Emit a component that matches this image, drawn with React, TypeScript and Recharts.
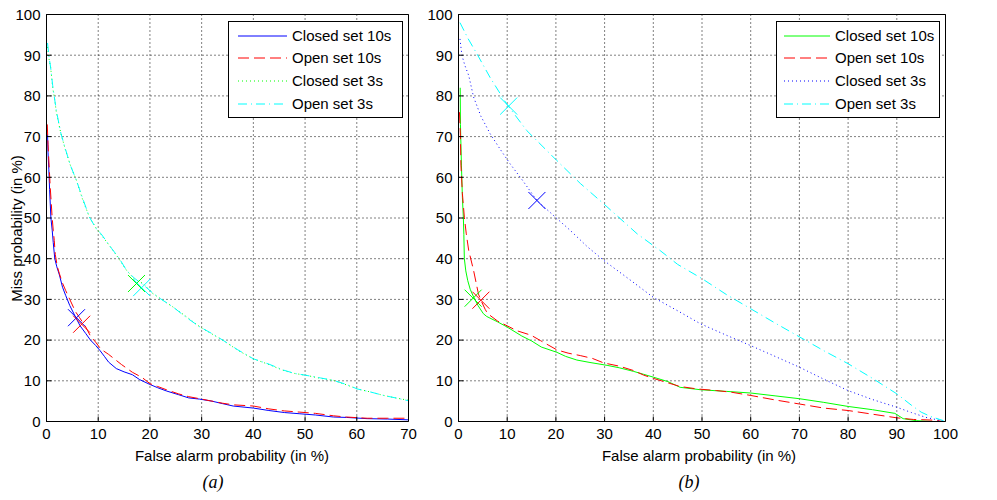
import React from "react";
import {
  LineChart,
  Line,
  XAxis,
  YAxis,
  CartesianGrid,
  ReferenceDot,
  Legend,
} from "recharts";

// ---------------------------------------------------------------------------
// Data: DET curves, [false alarm %, miss %]
// ---------------------------------------------------------------------------

type Pt = [number, number];

// Panel (a)
const closed10A: Pt[] = [
  [0.2, 70.5], [0.3, 66], [0.45, 62], [0.6, 57], [0.85, 50], [1.1, 47], [1.3, 44],
  [1.6, 40], [2.0, 38], [2.5, 36], [3.1, 33], [3.7, 31], [4.5, 28.5], [5.6, 25.7],
  [6.5, 23.5], [7.6, 21.6], [8.5, 20], [9.5, 18.7], [10.3, 17.5], [11.2, 16],
  [12, 14.6], [13.5, 13], [15, 12.2], [16.6, 11.5], [18, 10.3], [20, 9.1],
  [21.5, 8.3], [23.2, 7.5], [25.5, 6.6], [27.5, 5.8], [29.6, 5.5], [32, 5],
  [34, 4.4], [36.1, 3.8], [40, 3.3], [43, 2.7], [46, 2.2], [49, 1.9], [52, 1.6],
  [55.5, 1.1], [58, 1.0], [62, 0.7], [66, 0.6], [70, 0.4],
];
const open10A: Pt[] = [
  [0.15, 73], [0.3, 68], [0.5, 63], [0.7, 58], [1.1, 50], [1.3, 47], [1.5, 44.5],
  [1.7, 41], [2.1, 38], [2.5, 36.3], [3.1, 34], [3.7, 32.2], [4.5, 30], [5.6, 27],
  [6.4, 25.5], [7.6, 23.2], [8.5, 21], [9.5, 19.5], [10.5, 17.8], [12, 16.5],
  [13, 15.5], [14.5, 14], [16.6, 12.1], [18.5, 10.8], [20, 9.3], [21.5, 8.6],
  [23.2, 7.8], [25.5, 6.8], [27.5, 6.1], [29.6, 5.6], [32, 5.0], [34, 4.5],
  [36.1, 4.1], [40, 3.8], [43, 3.1], [46, 2.6], [49, 2.3], [52, 2.0], [55.5, 1.4],
  [58, 1.1], [62, 0.8], [66, 0.8], [70, 0.8],
];
const closed3A: Pt[] = [
  [0.2, 92], [0.5, 89], [0.8, 87], [1.2, 82], [1.6, 79], [1.9, 76], [2.4, 73],
  [2.8, 70.7], [3.6, 67], [4.6, 63], [5.8, 59.2], [7, 54.5], [8.3, 50.2],
  [9.6, 47.5], [10.5, 46], [12.6, 42.5], [14, 40], [15.5, 37.1], [17, 35],
  [18.7, 33.9], [20.5, 31.5], [22, 30.2], [24.5, 28.1], [27, 25.8], [29.7, 23.2],
  [32, 21.5], [34.2, 19.9], [37, 17.5], [40, 15.4], [43, 14], [45.9, 12.5],
  [48, 11.8], [50.4, 11.3], [53, 10.6], [55.5, 10.1], [58, 9], [60.1, 8],
  [62.5, 7.3], [65.2, 6.4], [67.5, 5.8], [70, 5.2],
];
const open3A: Pt[] = [
  [0.2, 93], [0.5, 89.5], [0.8, 87], [1.2, 82.5], [1.6, 79], [1.9, 76.4], [2.4, 73.2],
  [2.8, 70.7], [3.6, 67.2], [4.6, 63], [5.8, 59.2], [7, 54.8], [8.3, 50.2],
  [9.7, 47.2], [10.5, 46.2], [12.6, 42.5], [14, 40.2], [15.5, 37.1], [17, 35.2],
  [18.7, 33.6], [20.5, 31.6], [22, 30.2], [24.5, 28.1], [27, 25.6], [29.7, 23.2],
  [32, 21.6], [34.2, 19.9], [37, 17.6], [40, 15.4], [43, 14.1], [45.9, 12.6],
  [48, 11.8], [50.4, 11.3], [53, 10.7], [55.5, 10.1], [58, 9.1], [60.1, 8],
  [62.5, 7.3], [65.2, 6.4], [67.5, 5.8], [70, 5.1],
];

// Panel (b)
const closed10B: Pt[] = [
  [0.35, 82], [0.4, 73], [0.6, 63], [0.8, 55], [1.0, 50], [1.1, 46], [1.2, 40],
  [1.5, 37], [1.9, 34.6], [2.4, 32.5], [3.1, 30.6], [4, 28.5], [5.1, 26.5],
  [5.8, 25.8], [8, 24.5], [10, 23.2], [13, 21], [15, 19.8], [17, 18.3], [20.2, 17],
  [22, 16], [24.3, 15.1], [27, 14.5], [30.5, 13.8], [33, 13.2], [36, 12.3],
  [38, 11.6], [40, 10.9], [43, 9.8], [45.5, 8.4], [49.7, 7.8], [55, 7.4], [60, 7.0],
  [65, 6.3], [70, 5.6], [75, 4.7], [80, 3.7], [85, 2.9], [89.6, 2.0], [91.3, 0.7],
  [94, 0.2], [97.5, 0],
];
const open10B: Pt[] = [
  [0.2, 76], [0.4, 70], [0.5, 63], [0.8, 56], [1.2, 50.2], [1.6, 46.1], [2.1, 42],
  [3.1, 37.1], [4.1, 31.3], [4.6, 29.8], [5.5, 27.5], [6, 26.5], [8, 24.7],
  [10, 23.5], [12, 22.3], [14.9, 21.2], [16.8, 19.9], [20.2, 17.6], [22.5, 16.8],
  [25, 16.2], [27.5, 15.5], [29.8, 14.4], [33, 13.6], [36, 12.5], [38, 11.4],
  [40, 10.6], [43, 9.5], [45.5, 8.6], [49, 8.0], [53, 7.6], [56, 7.2], [60, 6.4],
  [65, 5.3], [70, 4.3], [75, 3.3], [80, 2.7], [85, 1.8], [90, 0.9], [93.4, 0.5],
  [96, 0.4], [98, 0.3], [99.5, 0],
];
const closed3B: Pt[] = [
  [0.3, 94], [0.7, 90], [1.3, 87.5], [2.1, 85], [3.1, 79.7], [4.6, 75], [6.5, 70.7],
  [8.5, 67], [10.6, 63.3], [13, 59.5], [16.1, 54.3], [19.9, 50.2], [23, 46.9],
  [26.4, 43], [29.8, 39.6], [35, 35], [40, 30.5], [45, 27.2], [49.7, 24], [55, 21.2],
  [59.9, 18.7], [65, 16], [69.9, 13.4], [75, 10.4], [80, 7.6], [85, 5.4], [90, 3.5],
  [93, 2.2], [96, 1.0], [100, 0],
];
const open3B: Pt[] = [
  [0.3, 98], [2, 94], [3.8, 90.3], [6.5, 84.5], [9.9, 78], [14, 71.5], [20.2, 64.1],
  [25, 58.5], [29.8, 53.5], [36.7, 46.1], [41.4, 42], [45, 38.6], [50, 35.1],
  [55, 31.2], [60, 27.7], [65, 24.2], [70, 20.8], [75, 17.4], [80, 14.2], [85, 10.6],
  [90, 6.8], [93, 4.0], [95, 2.3], [97, 1.2], [99.6, 0.2],
];

// Operating points (x markers), one per series
const markersA: Pt[] = [[5.8, 25.5], [6.8, 23.9], [17.4, 33.9], [18.4, 32.9]];
const markersB: Pt[] = [[3.0, 30.3], [4.6, 29.8], [16.1, 54.3], [10.3, 77.5]];

const seriesNames = ["Closed set 10s", "Open set 10s", "Closed set 3s", "Open set 3s"];
const colorsA = ["#0000ff", "#ff0000", "#00ff00", "#00ffff"];
const colorsB = ["#00ff00", "#ff0000", "#0000ff", "#00ffff"];
const dashes = ["", "11 5", "1 3", "9 4 1 4"];

const ticksA = [0, 10, 20, 30, 40, 50, 60, 70];
const ticksB = [0, 10, 20, 30, 40, 50, 60, 70, 80, 90, 100];
const ticksY = [0, 10, 20, 30, 40, 50, 60, 70, 80, 90, 100];

// ---------------------------------------------------------------------------
// Helpers
// ---------------------------------------------------------------------------

const FONT = '"Liberation Sans", Arial, sans-serif';
const toRows = (pts: Pt[]) => pts.map(([x, y]) => ({ x, y }));

function XMark(props: any) {
  const { cx, cy, stroke } = props;
  const r = 8.5;
  return (
    <g stroke={stroke} strokeWidth={1}>
      <line x1={cx - r} y1={cy - r} x2={cx + r} y2={cy + r} />
      <line x1={cx - r} y1={cy + r} x2={cx + r} y2={cy - r} />
    </g>
  );
}

function LegendBox({
  colors,
  width,
  lineX,
  lineW,
  textX,
}: {
  colors: string[];
  width: number;
  lineX: number;
  lineW: number;
  textX: number;
}) {
  return (
    <div
      style={{
        boxSizing: "border-box",
        width,
        height: 97,
        border: "1px solid #000",
        background: "#fff",
        position: "relative",
        fontFamily: FONT,
        fontSize: 15,
        color: "#000",
      }}
    >
      {seriesNames.map((name, i) => {
        const cy = 14.5 + i * 22.67;
        return (
          <React.Fragment key={name}>
            <svg
              width={lineW}
              height={4}
              style={{ position: "absolute", left: lineX - 1, top: cy - 2 - 1 }}
            >
              <line
                x1={0}
                x2={lineW}
                y1={2}
                y2={2}
                stroke={colors[i]}
                strokeWidth={1}
                strokeDasharray={dashes[i] || undefined}
              />
            </svg>
            <span
              style={{
                position: "absolute",
                left: textX - 1,
                top: cy - 10 - 1,
                lineHeight: "20px",
                whiteSpace: "nowrap",
              }}
            >
              {name}
            </span>
          </React.Fragment>
        );
      })}
    </div>
  );
}

interface PanelProps {
  series: Pt[][];
  markers: Pt[];
  colors: string[];
  xMax: number;
  xTicks: number[];
  width: number;
  yAxisWidth: number;
  marginRight: number;
  legend: { left: number; width: number; lineX: number; lineW: number; textX: number };
  xLabelX: number;
  tagX: number;
  tag: string;
  yLabel?: boolean;
}

function Panel(p: PanelProps) {
  const tickStyle = { fill: "#000", fontSize: 15, fontFamily: FONT };
  return (
    <LineChart
      width={p.width}
      height={500}
      margin={{ top: 13.5, right: p.marginRight, bottom: 0, left: 0 }}
    >
      <CartesianGrid stroke="#000" strokeDasharray="1 3" />
      <XAxis
        type="number"
        dataKey="x"
        domain={[0, p.xMax]}
        ticks={p.xTicks}
        interval={0}
        allowDataOverflow
        height={78.5}
        tickSize={-5}
        tickMargin={11.5}
        stroke="#000"
        tick={tickStyle}
        label={() => (
          <g fontFamily={FONT} fill="#000">
            <text x={p.xLabelX} y={455} fontSize={15} textAnchor="middle" dominantBaseline="central">
              False alarm probability (in %)
            </text>
            <text
              x={p.tagX}
              y={482}
              fontSize={18}
              fontStyle="italic"
              fontFamily='"Liberation Serif", "Times New Roman", serif'
              textAnchor="middle"
              dominantBaseline="central"
            >
              {p.tag}
            </text>
          </g>
        )}
      />
      <XAxis
        xAxisId="top"
        orientation="top"
        type="number"
        domain={[0, p.xMax]}
        ticks={p.xTicks}
        interval={0}
        allowDataOverflow
        height={1}
        tickSize={-5}
        tick={false}
        stroke="#000"
      />
      <YAxis
        type="number"
        dataKey="y"
        domain={[0, 100]}
        ticks={ticksY}
        interval={0}
        allowDataOverflow
        width={p.yAxisWidth}
        tickSize={-5}
        tickMargin={11}
        stroke="#000"
        tick={tickStyle}
        label={
          p.yLabel
            ? () => (
                <text
                  x={16.5}
                  y={228.5}
                  transform="rotate(-90 16.5 228.5)"
                  fontFamily={FONT}
                  fontSize={15}
                  fill="#000"
                  textAnchor="middle"
                  dominantBaseline="central"
                >
                  Miss probability (in %)
                </text>
              )
            : undefined
        }
      />
      <YAxis
        yAxisId="right"
        orientation="right"
        type="number"
        domain={[0, 100]}
        ticks={ticksY}
        interval={0}
        allowDataOverflow
        width={1}
        tickSize={-5}
        tick={false}
        stroke="#000"
      />
      {p.series.map((pts, i) => (
        <Line
          key={seriesNames[i]}
          name={seriesNames[i]}
          data={toRows(pts)}
          dataKey="y"
          type="linear"
          stroke={p.colors[i]}
          strokeWidth={1}
          strokeDasharray={dashes[i] || undefined}
          dot={false}
          activeDot={false}
          isAnimationActive={false}
        />
      ))}
      {p.markers.map(([x, y], i) => (
        <ReferenceDot
          key={`m${i}`}
          x={x}
          y={y}
          ifOverflow="visible"
          shape={(sp: any) => <XMark {...sp} stroke={p.colors[i]} />}
        />
      ))}
      <Legend
        layout="vertical"
        align="center"
        verticalAlign="middle"
        wrapperStyle={{ left: p.legend.left, top: 21, width: p.legend.width, height: 97 }}
        content={() => (
          <LegendBox
            colors={p.colors}
            width={p.legend.width}
            lineX={p.legend.lineX}
            lineW={p.legend.lineW}
            textX={p.legend.textX}
          />
        )}
      />
    </LineChart>
  );
}

export default function App() {
  return (
    <div
      style={{
        position: "absolute",
        left: 0,
        top: 0,
        width: 997,
        height: 500,
        background: "#fff",
        overflow: "hidden",
      }}
    >
      <div style={{ position: "absolute", left: 0, top: 0 }}>
        <Panel
          series={[closed10A, open10A, closed3A, open3A]}
          markers={markersA}
          colors={colorsA}
          xMax={70}
          xTicks={ticksA}
          width={420}
          yAxisWidth={46.5}
          marginRight={10.5}
          legend={{ left: 228, width: 175, lineX: 10, lineW: 49, textX: 64 }}
          xLabelX={232}
          tagX={213}
          tag="(a)"
          yLabel
        />
      </div>
      <div style={{ position: "absolute", left: 420, top: 0 }}>
        <Panel
          series={[closed10B, open10B, closed3B, open3B]}
          markers={markersB}
          colors={colorsB}
          xMax={100}
          xTicks={ticksB}
          width={577}
          yAxisWidth={38.5}
          marginRight={50.5}
          legend={{ left: 356, width: 164, lineX: 8, lineW: 46, textX: 59 }}
          xLabelX={279}
          tagX={269}
          tag="(b)"
        />
      </div>
    </div>
  );
}
